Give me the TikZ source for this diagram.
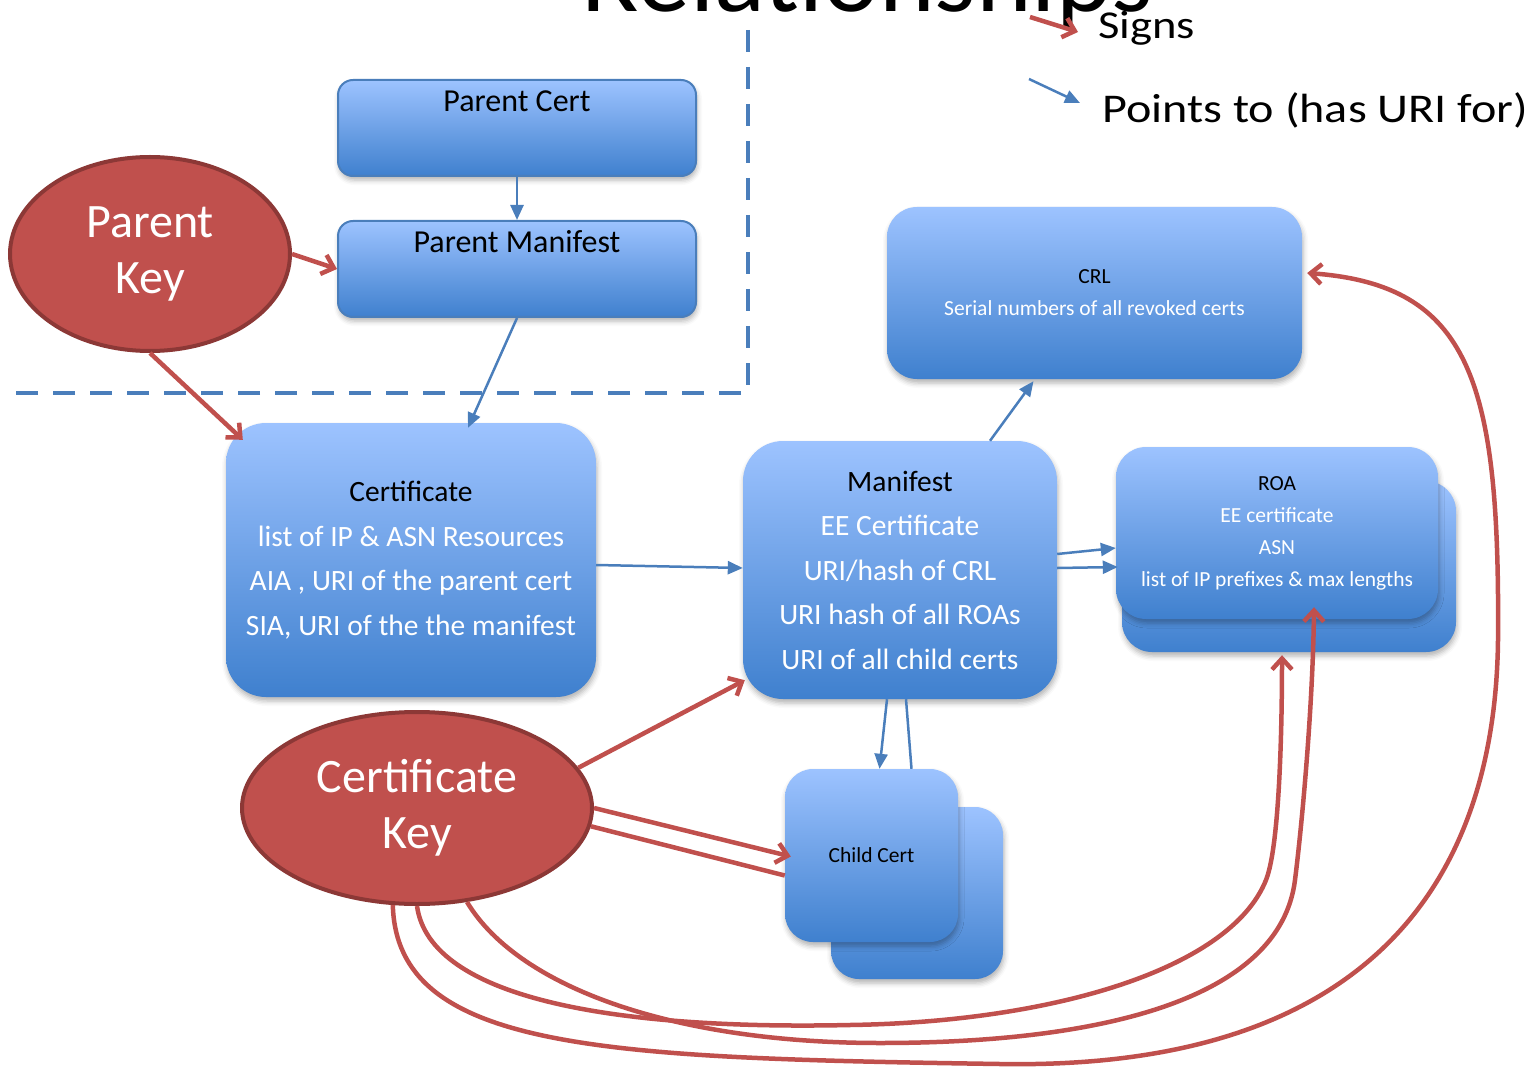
\documentclass[tikz,border=0pt]{standalone}
\usepackage{fontspec}
\setmainfont{Carlito}
\newfontfamily\legendfont[FakeStretch=1.18]{Carlito}
\usetikzlibrary{shapes.geometric,
                arrows.meta,
                calc,
                shadows.blur}

\begin{document}
\begin{tikzpicture}[x=1pt,y=-1pt,
  rbox/.style={rounded corners=#1,top color=boxtop,bottom color=boxbot,
    align=center,text=white,inner sep=0pt,
    blur shadow={shadow xshift=1pt,shadow yshift=-4pt,shadow blur radius=5pt,shadow opacity=30}},
  rbox/.default=30pt,
  parent box/.style={rbox=15pt,draw=linkblue,line width=2pt,text=black,
    minimum width=358pt,minimum height=96pt,text height=32pt,text depth=64pt,font=\parenttext},
  key node/.style={ellipse,fill=keyred,draw=keyedge,line width=4pt,text=white,
    align=center,inner sep=0pt,font=\keytext},
  points to/.style={draw=linkblue,line width=2.5pt,-{Triangle[length=15pt,width=13pt]}},
  pointer line/.style={draw=linkblue,line width=2.5pt},
  signs/.style={draw=keyred,line width=4.5pt,-{Straight Barb[length=11pt,width=20pt]}},
  sign line/.style={draw=keyred,line width=4.5pt}]
\definecolor{boxtop}{HTML}{9DC3FF} \definecolor{boxbot}{HTML}{3F80CE}
\definecolor{linkblue}{HTML}{4A7EBB}
\definecolor{keyred}{HTML}{C0504D} \definecolor{keyedge}{HTML}{8C3836}
\def\parenttext{\fontsize{32}{38}\selectfont}
\def\keytext{\fontsize{48}{56}\selectfont}
\def\boxtext{\fontsize{29.5}{44.5}\selectfont}
\def\smalltext{\fontsize{21.5}{32}\selectfont}
\useasboundingbox (0,0) rectangle (1537,1067);
% title and legend
\node[anchor=base west,font=\fontsize{106}{106}\selectfont] (title) at (578,12) {Relationships};
\coordinate (signs from) at (1030,17); \coordinate (signs to) at (1078,32);
\coordinate (points from) at (1029,79); \coordinate (points to) at (1080,103);
\draw[signs] (signs from) -- (signs to);
\draw[points to] (points from) -- (points to);
\node[anchor=base west,inner sep=0pt,font=\legendfont\fontsize{39.5}{39.5}\selectfont] (signs label) at (1098,39) {Signs};
\node[anchor=base west,inner sep=0pt,font=\legendfont\fontsize{40.8}{40.8}\selectfont] (points label) at (1102,123) {Points to (has URI for)};
% parent side
\draw[draw=linkblue,line width=4pt,dash pattern=on 22pt off 15pt] (748,30) -- (748,393) -- (10,393);
\node[parent box] (pcert) at (517,128) {Parent Cert};
\node[parent box] (pman) at (517,269) {Parent Manifest};
\node[key node,minimum width=280pt,minimum height=194pt] (pkey) at (150,254) {Parent\\Key};
% objects
\node[rbox=40pt,minimum width=370pt,minimum height=274pt,font=\boxtext] (cert) at (411,560)
  {\textcolor{black}{Certificate}\\list of IP \& ASN Resources\\AIA , URI of the parent cert\\SIA, URI of the the manifest};
\node[rbox=40pt,minimum width=314pt,minimum height=258pt,font=\boxtext] (man) at (900,570)
  {\textcolor{black}{Manifest}\\EE Certificate\\URI/hash of CRL\\URI hash of all ROAs\\URI of all child certs};
\node[rbox,minimum width=415pt,minimum height=172pt,font=\smalltext] (crl) at (1094.5,293)
  {\textcolor{black}{CRL}\\Serial numbers of all revoked certs};
\node[rbox,minimum width=334pt,minimum height=171pt] (roaback) at (1289,566.5) {};
\node[rbox,minimum width=322pt,minimum height=172pt,font=\smalltext] (roa) at (1277,533)
  {\textcolor{black}{ROA}\\EE certificate\\ASN\\list of IP prefixes \& max lengths};
\node[rbox=28pt,minimum width=172pt,minimum height=172pt] (childback) at (917,893) {};
\node[rbox=28pt,minimum width=173pt,minimum height=173pt,font=\smalltext,text=black] (child) at (871.5,855.5) {Child Cert};
\node[key node,minimum width=350pt,minimum height=192pt] (ckey) at (417,808) {Certificate\\Key};
% points to
\draw[points to] (pcert) -- (pman);
\draw[points to] (pman.south) -- ($(cert.north)+(57,5)$);
\draw[points to] ($(cert.east)+(0,5)$) -- ($(man.west)+(0,-2)$);
\draw[points to] ($(man.north)+(90,0)$) -- ($(crl.south)+(-61,2)$);
\draw[points to] ($(man.east)+(0,-16)$) -- ($(roa.west)+(0,15)$);
\draw[points to] ($(man.east)+(0,-2)$) -- ($(roa.west)+(2,34)$);
\draw[points to] ($(man.south)+(-13,0)$) -- ($(child.north)+(8,0)$);
\draw[pointer line] ($(man.south)+(6,0)$) -- ($(child.north)+(40,0)$);
% signs
\draw[signs] (pkey.east) -- (pman.west);
\draw[signs] (pkey.south) -- ($(cert.north west)+(17,17)$);
\draw[signs] (ckey.14) -- ($(man.south west)+(2,-19)$);
\draw[signs] (ckey.east) -- ($(child.west)+(6,1)$);
\draw[sign line] (ckey.-6) -- ($(child.west)+(0,20)$);
\draw[signs] (ckey.256) .. controls (397,1050) and (600,1058) .. (1000,1064)
  .. controls (1350,1070) and (1495,900) .. (1498,640)
  .. controls (1500,380) and (1470,285) .. ($(crl.east)+(5,-20)$);
\draw[signs] (ckey.south) .. controls (430,1000) and (620,1030) .. (850,1025)
  .. controls (1050,1022) and (1230,970) .. (1266,880)
  .. controls (1280,845) and (1282,720) .. ($(roaback.south)+(-7,3)$);
\draw[signs] (ckey.-62) .. controls (520,990) and (680,1043) .. (880,1043)
  .. controls (1100,1043) and (1280,1000) .. (1295,880)
  .. controls (1303,816) and (1313,700) .. ($(roa.south)+(37,-12)$);
\end{tikzpicture}
\end{document}
